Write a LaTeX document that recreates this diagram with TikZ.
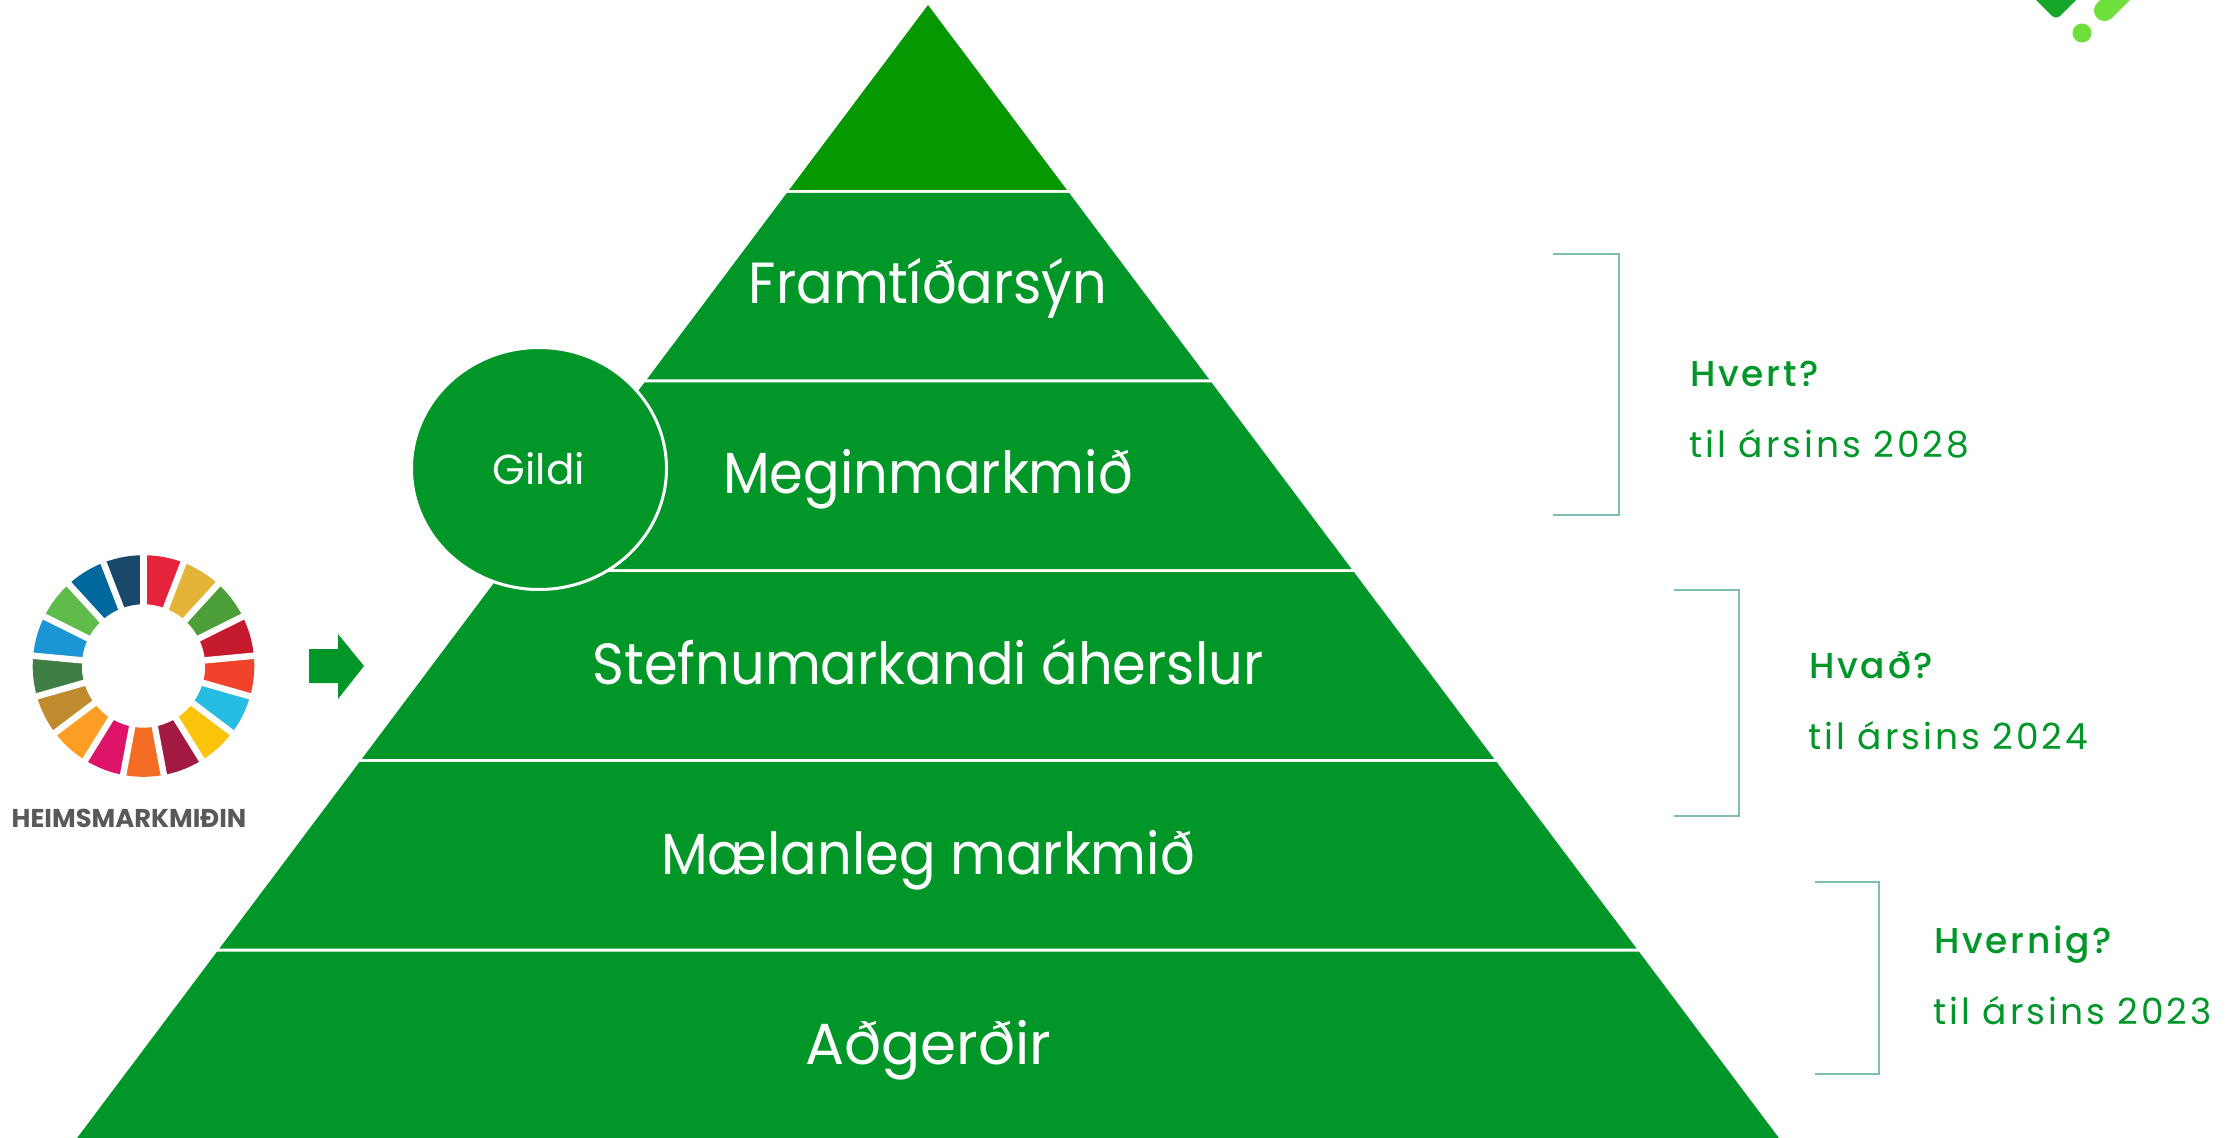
\documentclass[tikz,border=0pt]{standalone}
\usepackage{fontspec}
\usetikzlibrary{shapes.geometric}
\setmainfont{Poppins}
\newfontfamily\medfont{Poppins Medium}[LetterSpace=7.5]
\newfontfamily\spfont{Poppins}[LetterSpace=8.3]
\newfontfamily\logofont{Poppins Bold}
\definecolor{pgreen}{HTML}{009628}
\definecolor{tgreen}{HTML}{059800}
\definecolor{brk}{HTML}{7FBDB5}
\definecolor{sdgtext}{HTML}{58595B}
\newcommand\nar[1]{\scalebox{.935}[1]{#1}}
\tikzset{
  band/.style={fill=pgreen},
  lvl/.style={anchor=base,text=white,inner sep=0pt,font=\fontsize{29}{34}\selectfont},
  q/.style={anchor=base west,text=pgreen,inner sep=0pt,font=\medfont\fontsize{18}{22}\selectfont},
  y2/.style={anchor=base west,text=pgreen,inner sep=0pt,font=\spfont\fontsize{18}{22}\selectfont},
  bracket/.style={draw=brk,line width=0.75pt},
}
\begin{document}
\begin{tikzpicture}[x=0.5pt,y=-0.5pt]
\useasboundingbox (0,0) rectangle (2225,1138);
\clip (0,0) rectangle (2225,1138);
% pyramid
\fill[tgreen] (928,5) -- ({928+.751*185},190) -- ({928-.751*185},190) -- cycle;
\foreach \t/\b in {193/379.5,382.5/569.2,572.2/758.9,761.9/948.5,951.5/1138}{
  \fill[band] ({928-.751*(\t-5)},\t) -- ({928+.751*(\t-5)},\t) -- ({928+.751*(\b-5)},\b) -- ({928-.751*(\b-5)},\b) -- cycle;
}
\node[lvl] (n1) at (928,304) {\nar{Framtíðarsýn}};
\node[lvl] (n2) at (928,494) {\nar{Meginmarkmið}};
\node[lvl] (n3) at (928,684) {\nar{Stefnumarkandi áherslur}};
\node[lvl] (n4) at (928,874) {\nar{Mælanleg markmið}};
\node[lvl] (n5) at (928,1064) {Aðgerðir};
% values ellipse
\node[ellipse,fill=pgreen,draw=white,line width=1.5pt,minimum width=127.5pt,minimum height=121pt,inner sep=0pt,text=white,font=\fontsize{21}{25}\selectfont] (gildi) at (539,468.5) {Gildi};
% SDG wheel
\foreach \i/\c in {1/E5243B,2/E3B437,3/4C9F38,4/C5192D,5/F1432C,6/26BDE2,7/FCC30B,8/A21942,9/F36D25,10/DD1367,11/FD9D24,12/BF8B2E,13/3F7E44,14/1A96D5,15/5FBB4A,16/00689D,17/19486A}{
  \definecolor{seg}{HTML}{\c}
  \pgfmathsetmacro\aa{(\i-1)*360/17}
  \pgfmathsetmacro\ab{\i*360/17}
  \fill[seg] plot[domain=\aa:\ab,samples=10] ({143.5+110.8*sin(\x)},{666-110.8*cos(\x)})
     -- plot[domain=\ab:\aa,samples=10] ({143.5+61.7*sin(\x)},{666-61.7*cos(\x)}) -- cycle;
}
\foreach \i in {1,...,17}{
  \pgfmathsetmacro\aa{(\i-1)*360/17}
  \draw[white,line width=3.2pt] ({143.5+50*sin(\aa)},{666-50*cos(\aa)}) -- ({143.5+118*sin(\aa)},{666-118*cos(\aa)});
}
\node[anchor=base,inner sep=0pt,text=sdgtext,font=\logofont\fontsize{12.9}{15}\selectfont] (sdg) at (129,827) {HEIMSMARKMIÐIN};
% arrow
\fill[pgreen] (309,649) -- (338,649) -- (338,634) -- (364,666) -- (338,699) -- (338,683) -- (309,683) -- cycle;
% brackets
\draw[bracket] (1553,254) -- (1619,254) -- (1619,515) -- (1553,515);
\draw[bracket] (1674,590) -- (1739,590) -- (1739,816) -- (1674,816);
\draw[bracket] (1815,882) -- (1879,882) -- (1879,1074) -- (1815,1074);
% texts
\node[q] (q1) at (1690,387) {Hvert?};
\node[y2] (y1) at (1689,458) {til ársins 2028};
\node[q] (q2) at (1809,678) {Hvað?};
\node[y2] (y2n) at (1808,749) {til ársins 2024};
\node[q] (q3) at (1934,953) {Hvernig?};
\node[y2] (y3) at (1933,1024) {til ársins 2023};
% logo corner
\fill[rounded corners=3pt,color={rgb,255:red,22;green,166;blue,42}] (2056,20) -- (2020,-16) -- (2092,-16) -- cycle;
\draw[line width=10.5pt,line cap=round,color={rgb,255:red,111;green,223;blue,60}] (2104.5,10.5) -- (2135,-20);
\fill[color={rgb,255:red,111;green,223;blue,60}] (2082,33) circle (9.5);
\end{tikzpicture}
\end{document}
